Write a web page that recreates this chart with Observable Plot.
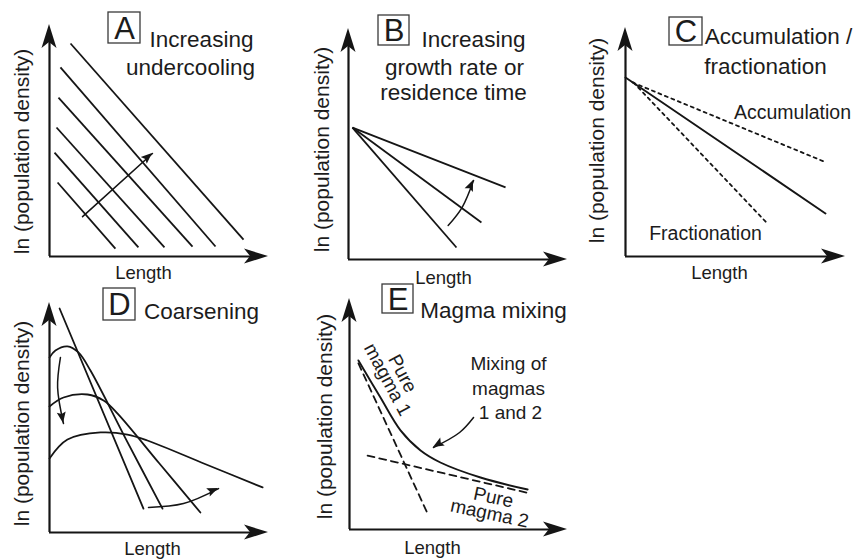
<!DOCTYPE html>
<html>
<head>
<meta charset="utf-8">
<script src="https://cdn.jsdelivr.net/npm/d3@7"></script>
<script src="https://cdn.jsdelivr.net/npm/@observablehq/plot@0.6"></script>
<style>
  html, body { margin: 0; padding: 0; background: #fff; }
  #chart { position: relative; width: 855px; height: 559px; overflow: hidden; }
  #chart svg { position: absolute; left: 0; top: 0; }
</style>
</head>
<body>
<div id="chart"></div>
<script>
// ================= DATA (schematic, axis units 0–10) =================
// Panel A: parallel CSDs, increasing undercooling
const aLines = [
  {x1: 0.96, y1: 9.18, x2: 8.86, y2: 0.73},
  {x1: 0.50, y1: 8.15, x2: 7.58, y2: 0.43},
  {x1: 0.41, y1: 6.85, x2: 6.53, y2: 0.43},
  {x1: 0.32, y1: 5.56, x2: 5.25, y2: 0.39},
  {x1: 0.23, y1: 4.48, x2: 4.06, y2: 0.39},
  {x1: 0.37, y1: 3.19, x2: 3.01, y2: 0.34}
];
const aArrow = [{x: 1.51, y: 1.72}, {x: 4.70, y: 4.44}];

// Panel B: fan of CSDs from a common intercept
const bOrigin = {x: 0.18, y: 5.71};
const bEnds = [{x: 7.17, y: 3.12}, {x: 6.07, y: 1.60}, {x: 4.93, y: 0.52}];
const bArrow = [{x: 4.55, y: 1.47}, {x: 5.19, y: 2.26}, {x: 5.71, y: 3.42}];

// Panel C: accumulation / fractionation
const cSolid = [{x: 0.00, y: 7.82}, {x: 9.09, y: 1.88}];
const cAccum = [{x: 0.32, y: 7.60}, {x: 9.14, y: 4.10}];
const cFrac  = [{x: 0.36, y: 7.60}, {x: 6.45, y: 1.44}];

// Panel D: coarsening
const dLine = [{x: 0.46, y: 9.74}, {x: 4.29, y: 1.04}];
const dCurve1 = [{x: 0, y: 7.61}, {x: 0.27, y: 7.91}, {x: 0.82, y: 8.09}, {x: 1.32, y: 7.83}, {x: 1.87, y: 7.04}, {x: 3.50, y: 4.04}, {x: 5.16, y: 1.04}];
const dCurve2 = [{x: 0, y: 5.48}, {x: 0.64, y: 5.87}, {x: 1.74, y: 6.00}, {x: 2.47, y: 5.74}, {x: 3.11, y: 5.17}, {x: 5.00, y: 3.02}, {x: 6.89, y: 0.87}];
const dCurve3 = [{x: 0, y: 3.22}, {x: 0.82, y: 4.04}, {x: 2.33, y: 4.35}, {x: 3.56, y: 4.26}, {x: 4.47, y: 4.00}, {x: 7.10, y: 2.98}, {x: 9.73, y: 1.96}];
const dArrowDown = [{x: 0.50, y: 7.61}, {x: 0.37, y: 6.30}, {x: 0.64, y: 4.74}];
const dArrowRight = [{x: 4.52, y: 1.09}, {x: 6.12, y: 1.26}, {x: 7.72, y: 1.91}];

// Panel E: magma mixing
const eMagma1 = [{x: 0.41, y: 7.19}, {x: 3.62, y: 0.61}];
const eMagma2 = [{x: 0.83, y: 3.20}, {x: 8.30, y: 1.56}];
const eMix = [{x: 0.41, y: 7.32}, {x: 1.42, y: 5.71}, {x: 2.34, y: 4.29}, {x: 3.26, y: 3.42}, {x: 4.17, y: 2.90}, {x: 6.01, y: 2.25}, {x: 8.17, y: 1.73}];
const eArrow = [{x: 5.69, y: 4.85}, {x: 5.05, y: 4.20}, {x: 3.85, y: 3.55}];

// Text labels
const yLabel = "ln (population density)";
const xLabel = "Length";
const panelLetters = ["A", "B", "C", "D", "E"];
const titlesA = ["Increasing", "undercooling"];
const titlesB = ["Increasing", "growth rate or", "residence time"];
const titlesC = ["Accumulation /", "fractionation"];
const titlesD = ["Coarsening"];
const titlesE = ["Magma mixing"];
const notesC = ["Accumulation", "Fractionation"];
const notesE = ["Mixing of", "magmas", "1 and 2"];
const notesE1 = ["Pure", "magma 1"];
const notesE2 = ["Pure", "magma 2"];

// ================= LAYOUT (page pixels) =================
const W = 855, H = 559;
const FONT = "'Liberation Sans', Arial, Helvetica, sans-serif";
const INK = "#151515";
const layout = {
  A: {frame: {x0: 49, x1: 268, y0: 256, y1: 24},
      box: {x: 108, y: 12, w: 32, h: 31},
      titles: titlesA.map((t, i) => ({t, x: [201, 190][i], y: [39, 67][i]})),
      ylab: {x: 22, y: 151}, xlab: {x: 143, y: 272.5}},
  B: {frame: {x0: 348, x1: 567, y0: 259, y1: 28},
      box: {x: 378, y: 15, w: 31, h: 30},
      titles: titlesB.map((t, i) => ({t, x: [473, 454, 453][i], y: [39, 67, 92][i]})),
      ylab: {x: 322, y: 149}, xlab: {x: 443, y: 277.5}},
  C: {frame: {x0: 625, x1: 845, y0: 256, y1: 27},
      box: {x: 669, y: 17, w: 33, h: 28},
      titles: titlesC.map((t, i) => ({t, x: [778, 765][i], y: [36, 66][i]})),
      ylab: {x: 597, y: 140}, xlab: {x: 719, y: 273}},
  D: {frame: {x0: 49, x1: 268, y0: 532, y1: 302},
      box: {x: 103, y: 288, w: 32, h: 32},
      titles: titlesD.map((t) => ({t, x: 201, y: 311})),
      ylab: {x: 22, y: 423}, xlab: {x: 152, y: 549}},
  E: {frame: {x0: 349, x1: 567, y0: 529, y1: 298},
      box: {x: 382, y: 284, w: 31, h: 29},
      titles: titlesE.map((t) => ({t, x: 493, y: 310})),
      ylab: {x: 325, y: 416}, xlab: {x: 432, y: 547.5}}
};

function arrowHead(svg, sx, sy, from, tip, L, w, n) {
  const tx = sx(tip.x), ty = sy(tip.y), fx = sx(from.x), fy = sy(from.y);
  let ux = tx - fx, uy = ty - fy;
  const len = Math.hypot(ux, uy); ux /= len; uy /= len;
  const px = -uy, py = ux;
  const bx = tx - L * ux, by = ty - L * uy;
  const pts = [[tx, ty], [bx + w * px, by + w * py], [tx - (L - n) * ux, ty - (L - n) * uy], [bx - w * px, by - w * py]];
  d3.select(svg).append("path")
    .attr("d", "M" + pts.map(p => p.join(",")).join("L") + "Z")
    .attr("fill", INK);
}

function makePanel(key, letter, marks, smallArrows, extraTexts) {
  const L = layout[key], f = L.frame;
  const toX = px => (px - f.x0) / (f.x1 - f.x0) * 10;
  const toY = py => (f.y0 - py) / (f.y0 - f.y1) * 10;
  const txt = (arr, opts) => Plot.text(arr, {
    x: d => toX(d.x), y: d => toY(d.y), text: d => d.t,
    fontFamily: FONT, fill: "#1c1c1c", textAnchor: "middle", lineAnchor: "middle", ...opts
  });
  const b = L.box;
  const plot = Plot.plot({
    width: W, height: H,
    marginLeft: f.x0, marginRight: W - f.x1, marginTop: f.y1, marginBottom: H - f.y0,
    x: {domain: [0, 10], axis: null},
    y: {domain: [0, 10], axis: null},
    style: {background: "transparent", overflow: "visible"},
    marks: [
      // axes
      Plot.ruleX([0], {y1: 0, y2: 9.4, stroke: INK, strokeWidth: 2.2}),
      Plot.ruleY([0], {x1: 0, x2: 9.4, stroke: INK, strokeWidth: 2.2}),
      ...marks,
      // axis labels
      txt([{t: yLabel, ...L.ylab}], {rotate: -90, fontSize: 21}),
      txt([{t: xLabel, ...L.xlab}], {fontSize: 18.5}),
      // title
      Plot.rect([b], {x1: d => toX(d.x), x2: d => toX(d.x + d.w), y1: d => toY(d.y + d.h), y2: d => toY(d.y),
        fill: "none", stroke: "#3a3a3a", strokeWidth: 1.3}),
      txt([{t: letter, x: b.x + b.w / 2, y: b.y + b.h / 2 + 1}], {fontSize: 31}),
      txt(L.titles, {fontSize: 22.5}),
      ...(extraTexts || []).map(e => txt(e.items, e.opts))
    ]
  });
  const sx = plot.scale("x").apply, sy = plot.scale("y").apply;
  arrowHead(plot, sx, sy, {x: 0, y: 0}, {x: 10, y: 0}, 24, 7.5, 6);
  arrowHead(plot, sx, sy, {x: 0, y: 0}, {x: 0, y: 10}, 24, 7.5, 6);
  for (const a of smallArrows) {
    const n = a.length;
    arrowHead(plot, sx, sy, a[n - 2], a[n - 1], 11, 4.5, 2);
  }
  return plot;
}

const line = (data, opts) => Plot.line(data, {x: "x", y: "y", stroke: INK, strokeWidth: 1.8, ...opts});
const chart = document.getElementById("chart");

// Panel A
chart.appendChild(makePanel("A", panelLetters[0], [
  Plot.link(aLines, {x1: "x1", y1: "y1", x2: "x2", y2: "y2", stroke: INK, strokeWidth: 1.8}),
  line(aArrow, {strokeWidth: 1.6})
], [aArrow]));

// Panel B
chart.appendChild(makePanel("B", panelLetters[1], [
  Plot.link(bEnds, {x1: () => bOrigin.x, y1: () => bOrigin.y, x2: "x", y2: "y", stroke: INK, strokeWidth: 1.8}),
  line(bArrow, {curve: "catmull-rom", strokeWidth: 1.5})
], [bArrow]));

// Panel C
chart.appendChild(makePanel("C", panelLetters[2], [
  line(cSolid, {strokeWidth: 1.9}),
  line(cAccum, {strokeDasharray: "3,4", strokeWidth: 1.8}),
  line(cFrac, {strokeDasharray: "3,4", strokeWidth: 1.8})
], [], [
  {items: [{t: notesC[0], x: 792, y: 112}, {t: notesC[1], x: 705, y: 233}], opts: {fontSize: 19.5}}
]));

// Panel D
chart.appendChild(makePanel("D", panelLetters[3], [
  line(dLine),
  line(dCurve1, {curve: "catmull-rom"}),
  line(dCurve2, {curve: "catmull-rom"}),
  line(dCurve3, {curve: "catmull-rom"}),
  line(dArrowDown, {curve: "catmull-rom", strokeWidth: 1.5}),
  line(dArrowRight, {curve: "catmull-rom", strokeWidth: 1.5})
], [dArrowDown, dArrowRight]));

// Panel E
chart.appendChild(makePanel("E", panelLetters[4], [
  line(eMagma1, {strokeDasharray: "7,5", strokeWidth: 1.8}),
  line(eMagma2, {strokeDasharray: "7,5", strokeWidth: 1.8}),
  line(eMix, {curve: "catmull-rom", strokeWidth: 1.9}),
  line(eArrow, {curve: "catmull-rom", strokeWidth: 1.5})
], [eArrow], [
  {items: notesE.map((t, i) => ({t, x: [508, 508, 510][i], y: [363, 388, 412][i]})), opts: {fontSize: 19}},
  {items: notesE1.map((t, i) => ({t, x: [402, 387][i], y: [373, 379][i]})), opts: {fontSize: 19, rotate: 62}},
  {items: notesE2.map((t, i) => ({t, x: [493, 489][i], y: [497, 513][i]})), opts: {fontSize: 19, rotate: 12}}
]));
</script>
</body>
</html>
